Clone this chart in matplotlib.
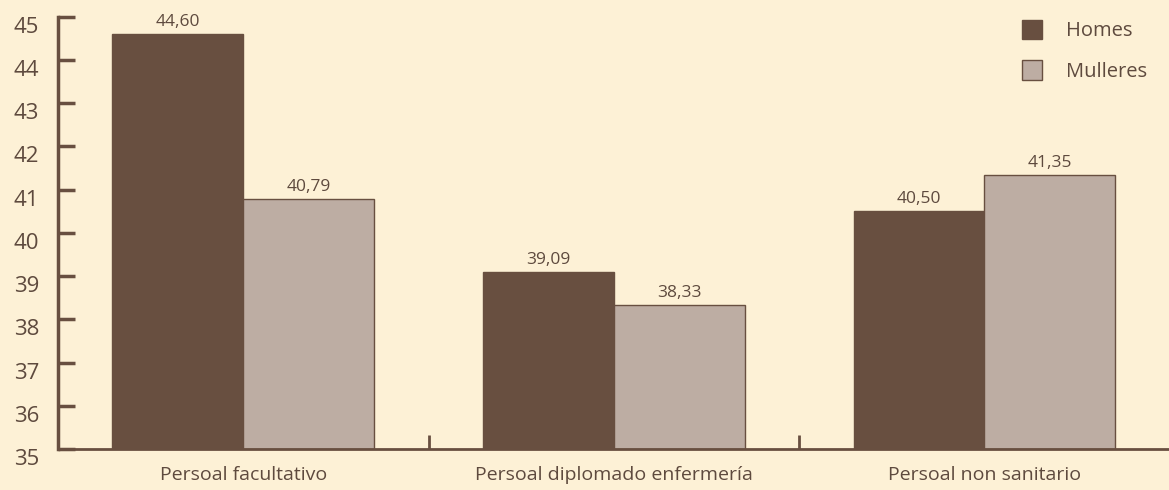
import numpy as np
import matplotlib.pyplot as plt
import matplotlib.transforms as mtransforms
from matplotlib.patches import Patch

categories = ["Persoal facultativo", "Persoal diplomado enfermería", "Persoal non sanitario"]
homes = [44.60, 39.09, 40.50]
mulleres = [40.79, 38.33, 41.35]
yticks = list(range(35, 46))

BG = "#fdf1d6"
DARK = "#684f40"
LIGHT = "#bdada3"
TXT = "#5e4a3e"

plt.rcParams['font.family'] = ['Open Sans', 'DejaVu Sans']

fig = plt.figure(figsize=(11.69, 4.90), dpi=100, facecolor=BG)
ax = fig.add_axes([0.0496, 0.0837, 0.951, 0.882], facecolor=BG)

x = np.arange(len(categories))
w = 0.353
ax.bar(x - w/2, np.array(homes) - 35, w, bottom=35, color=DARK, edgecolor=DARK, linewidth=1)
ax.bar(x + w/2, np.array(mulleres) - 35, w, bottom=35, color=LIGHT, edgecolor=DARK, linewidth=1)

for xs, vals in ((x - w/2, homes), (x + w/2, mulleres)):
    for xi, v in zip(xs, vals):
        ax.text(xi, v + 0.09, f"{v:.2f}".replace(".", ","), ha="center", va="bottom",
                fontsize=12.5, color=TXT)

ax.set_xlim(-0.5, 2.5)
ax.set_ylim(35, 45)
ax.set_yticks(yticks)
ax.set_yticklabels([str(t) for t in yticks], fontsize=16, color=TXT)
ax.tick_params(axis="y", direction="in", length=12, width=2.5, color=DARK, pad=13.5)
# numbers sit a little below their ticks
shift = mtransforms.ScaledTranslation(0, -8 / 100, fig.dpi_scale_trans)
for lab in ax.get_yticklabels():
    lab.set_transform(lab.get_transform() + shift)

# category labels under each pair, separators between groups
ax.set_xticks([0.5, 1.5])
ax.set_xticklabels([])
ax.tick_params(axis="x", direction="in", length=10, width=2, color=DARK)
for xi, lab in zip(x, categories):
    ax.text(xi, -0.04, lab, transform=ax.get_xaxis_transform(), ha="center", va="top",
            fontsize=14, color=TXT)

for s in ("top", "right"):
    ax.spines[s].set_visible(False)
ax.spines["left"].set_color(DARK)
ax.spines["left"].set_linewidth(2.5)
ax.spines["bottom"].set_color(DARK)
ax.spines["bottom"].set_linewidth(2)

handles = [Patch(facecolor=DARK, edgecolor=DARK, label="Homes"),
           Patch(facecolor=LIGHT, edgecolor=DARK, label="Mulleres")]
ax.legend(handles=handles, loc="upper left", bbox_to_anchor=(0.8505, 1.035), frameon=False,
          fontsize=14.5, handlelength=1.0, handleheight=1.1, handletextpad=1.2,
          labelspacing=0.95, labelcolor=TXT)

fig.savefig("out.png", dpi=100, facecolor=BG)
